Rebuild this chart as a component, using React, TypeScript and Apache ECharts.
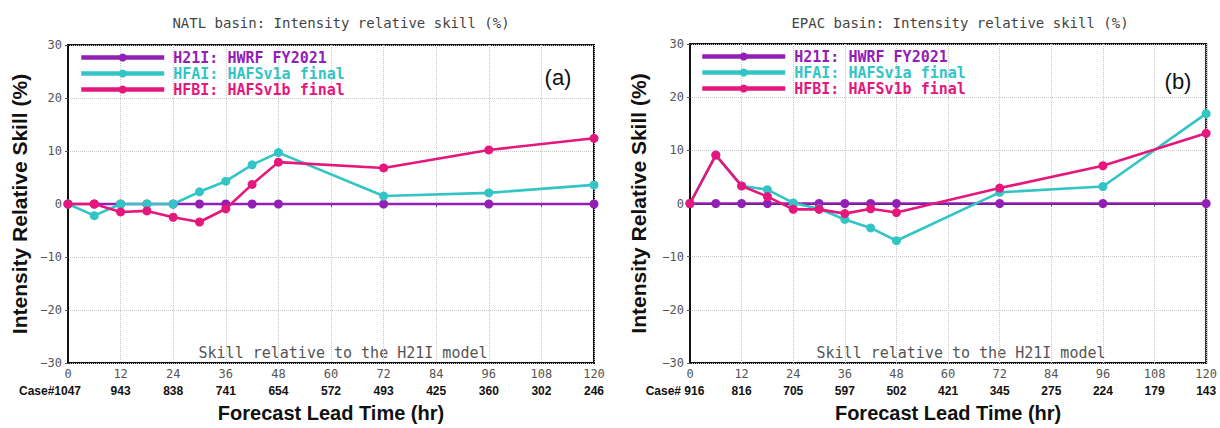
import React, { useEffect, useRef } from "react";
import * as echarts from "echarts";

const hours = [0, 6, 12, 18, 24, 30, 36, 42, 48, 72, 96, 120];
const seriesNames = ["H21I: HWRF FY2021", "HFAI: HAFSv1a final", "HFBI: HAFSv1b final"];
const seriesColors = ["#9320B6", "#33C4C6", "#E5177C"];

const natlH21I = [0, 0, 0, 0, 0, 0, 0, 0, 0, 0, 0, 0];
const natlHFAI = [0, -2.2, 0, 0, 0, 2.3, 4.3, 7.4, 9.7, 1.5, 2.1, 3.6];
const natlHFBI = [0, 0, -1.5, -1.3, -2.5, -3.4, -0.9, 3.7, 7.9, 6.8, 10.2, 12.4];

const epacH21I = [0, 0, 0, 0, 0, 0, 0, 0, 0, 0, 0, 0];
const epacHFAI = [0, 9.1, 3.3, 2.6, 0.1, -1.0, -3.0, -4.6, -7.0, 2.1, 3.2, 16.9];
const epacHFBI = [0, 9.1, 3.3, 1.3, -1.1, -1.1, -1.9, -1.0, -1.7, 2.9, 7.1, 13.2];

const natlCases = ["Case#1047", "943", "838", "741", "654", "572", "493", "425", "360", "302", "246"];
const epacCases = ["Case# 916", "816", "705", "597", "502", "421", "345", "275", "224", "179", "143"];

const titles = ["NATL basin: Intensity relative skill (%)", "EPAC basin: Intensity relative skill (%)"];
const panelTags = ["(a)", "(b)"];
const footNote = "Skill relative to the H21I model";
const xAxisTitle = "Forecast Lead Time (hr)";
const yAxisTitle = "Intensity Relative Skill (%)";

const MONO = '"DejaVu Sans Mono", monospace';
const SANS = '"Liberation Sans", Arial, sans-serif';

function pair(xs: number[], ys: number[]) {
  return xs.map((x, i) => [x, ys[i]]);
}

export default function App() {
  const ref = useRef<HTMLDivElement>(null);
  useEffect(() => {
    if (!ref.current) return;
    const chart = echarts.init(ref.current, null, { renderer: "svg" });

    const grids = [
      { left: 68, top: 45, width: 526, height: 323 },
      { left: 690, top: 44, width: 518, height: 324 },
    ];
    const caseLists = [natlCases, epacCases];
    const casePad = [36, 30];
    const nameGaps = [38, 41];
    const dataSets = [
      [natlH21I, natlHFAI, natlHFBI],
      [epacH21I, epacHFAI, epacHFBI],
    ];

    const xAxes: any[] = [];
    const yAxes: any[] = [];
    const series: any[] = [];
    const legends: any[] = [];
    const graphics: any[] = [];

    grids.forEach((g, gi) => {
      xAxes.push({
        type: "value",
        gridIndex: gi,
        min: 0,
        max: 120,
        interval: 12,
        axisLine: { show: true, lineStyle: { color: "#111", width: 2 } },
        axisTick: { show: true, length: 3, lineStyle: { color: "#555" } },
        axisLabel: { color: "#555", fontFamily: MONO, fontSize: 12, margin: 5 },
        splitLine: { show: true, lineStyle: { type: "dotted", color: "#c8c8c8" } },
      });
      const cases = caseLists[gi];
      xAxes.push({
        type: "value",
        gridIndex: gi,
        min: 0,
        max: 120,
        interval: 12,
        position: "bottom",
        offset: 22,
        axisLine: { show: false },
        axisTick: { show: false },
        splitLine: { show: false },
        axisLabel: {
          margin: 0,
          formatter: (v: number) => {
            const i = Math.round(v / 12);
            return i === 0 ? "{first|" + cases[0] + "}" : "{n|" + cases[i] + "}";
          },
          rich: {
            first: { fontFamily: SANS, fontWeight: "bold", fontSize: 12, color: "#111", padding: [0, casePad[gi], 0, 0] },
            n: { fontFamily: SANS, fontWeight: "bold", fontSize: 12, color: "#111" },
          },
        },
        name: xAxisTitle,
        nameLocation: "middle",
        nameGap: 18,
        nameTextStyle: { fontFamily: SANS, fontWeight: "bold", fontSize: 20, color: "#111" },
      });
      yAxes.push({
        type: "value",
        gridIndex: gi,
        min: -30,
        max: 30,
        interval: 10,
        axisLine: { show: true, lineStyle: { color: "#111", width: 2 } },
        axisTick: { show: true, length: 3, lineStyle: { color: "#555" } },
        axisLabel: {
          color: "#555",
          fontFamily: MONO,
          fontSize: 12,
          margin: 6,
          formatter: (v: number) => String(v).replace("-", "\u2212"),
        },
        splitLine: { show: true, lineStyle: { type: "dotted", color: "#c8c8c8" } },
        name: yAxisTitle,
        nameLocation: "middle",
        nameGap: nameGaps[gi],
        nameTextStyle: { fontFamily: SANS, fontWeight: "bold", fontSize: 21, color: "#111" },
      });
      dataSets[gi].forEach((vals, si) => {
        series.push({
          type: "line",
          name: seriesNames[si],
          xAxisIndex: gi * 2,
          yAxisIndex: gi,
          data: pair(hours, vals),
          symbol: "circle",
          symbolSize: 9,
          color: seriesColors[si],
          lineStyle: { width: 2.6, color: seriesColors[si] },
          itemStyle: { color: seriesColors[si] },
          z: 2 + si,
        });
      });
      legends.push({
        orient: "vertical",
        left: gi === 0 ? 79 : 700,
        top: gi === 0 ? 50 : 49,
        itemWidth: 83,
        itemHeight: 10,
        itemGap: 1,
        padding: 0,
        selectedMode: false,
        lineStyle: { width: 4.5 },
        textStyle: { fontFamily: MONO, fontWeight: "bold", fontSize: 15, lineHeight: 15, padding: [0, 0, 0, 4] },
        data: seriesNames.map((n, i) => ({ name: n, textStyle: { color: seriesColors[i] } })),
      });
      const cx = g.left + g.width / 2;
      graphics.push({
        type: "text",
        x: gi === 0 ? 341 : 960,
        y: 23,
        style: { text: titles[gi], fill: "#444", font: "14px " + MONO, align: "center", verticalAlign: "middle" },
      });
      graphics.push({
        type: "text",
        x: gi === 0 ? 558 : 1178,
        y: gi === 0 ? 77 : 81,
        style: { text: panelTags[gi], fill: "#111", font: "22px " + SANS, align: "center", verticalAlign: "middle" },
      });
      graphics.push({
        type: "text",
        x: cx + 12,
        y: 353,
        style: { text: footNote, fill: "#555", font: "15px " + MONO, align: "center", verticalAlign: "middle" },
      });
    });

    chart.setOption({
      animation: false,
      backgroundColor: "#fff",
      grid: grids.map((g) => ({ ...g, show: true, borderColor: "#111", borderWidth: 2, backgroundColor: "transparent" })),
      xAxis: xAxes,
      yAxis: yAxes,
      legend: legends,
      series,
      graphic: graphics,
    });
    return () => chart.dispose();
  }, []);

  return (
    <div
      ref={ref}
      style={{ position: "fixed", left: 0, top: 0, width: 1220, height: 428, background: "#fff" }}
    />
  );
}
